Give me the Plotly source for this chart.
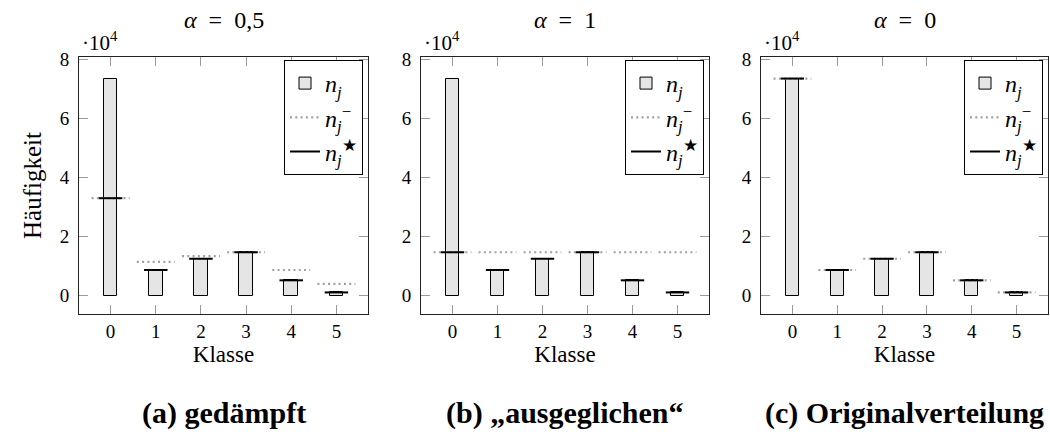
import plotly.graph_objects as go

# ---------------- data ----------------
classes = [0, 1, 2, 3, 4, 5]
tick_labels = ["0", "1", "2", "3", "4", "5"]
y_ticks = [0, 20000, 40000, 60000, 80000]
y_tick_labels = ["0", "2", "4", "6", "8"]

n_j = [73500, 8700, 12500, 14700, 5200, 1100]

# (a) alpha = 0.5
n_minus_a = [33000, 11450, 13400, 14700, 8700, 4000]
n_star_a = [33000, 8700, 12500, 14700, 5200, 1100]
# (b) alpha = 1
n_minus_b = [14700, 14700, 14700, 14700, 14700, 14700]
n_star_b = [14700, 8700, 12500, 14700, 5200, 1100]
# (c) alpha = 0
n_minus_c = [73500, 8700, 12500, 14700, 5200, 1100]
n_star_c = [73500, 8700, 12500, 14700, 5200, 1100]

titles = ["<i>α</i>\u2002=\u20020,5", "<i>α</i>\u2002=\u20021", "<i>α</i>\u2002=\u20020"]
captions = ["<b>(a) gedämpft</b>", "<b>(b) „ausgeglichen“</b>", "<b>(c) Originalverteilung</b>"]
series = [(n_minus_a, n_star_a), (n_minus_b, n_star_b), (n_minus_c, n_star_c)]

# ---------------- layout constants ----------------
W, H = 1050, 435
FONT = "'Liberation Serif', 'Times New Roman', 'DejaVu Serif', serif"
x_domains = [(79, 368), (421, 709), (761, 1048)]
y_top, y_bot = 57, 314


def segs(vals, half):
    xs, ys = [], []
    for c, v in zip(classes, vals):
        xs += [c - half, c + half, None]
        ys += [v, v, None]
    return xs, ys


fig = go.Figure()
legend_names = ["legend", "legend2", "legend3"]

for i, (nm, ns) in enumerate(series):
    ax = "" if i == 0 else str(i + 1)
    xref, yref = "x" + ax, "y" + ax
    lg = legend_names[i]
    fig.add_trace(go.Bar(
        x=classes, y=n_j, width=0.3, base=0,
        marker=dict(color="#e5e5e5", line=dict(color="black", width=1)),
        name="<i>n</i><sub><i>j</i></sub>", xaxis=xref, yaxis=yref, legend=lg,
    ))
    xs, ys = segs(nm, 0.42)
    fig.add_trace(go.Scatter(
        x=xs, y=ys, mode="lines",
        line=dict(color="#a0a0a0", width=2.2, dash="2px,3.3px"),
        name="<i>n</i><sub><i>j</i></sub><sup>−</sup>", xaxis=xref, yaxis=yref, legend=lg,
    ))
    xs, ys = segs(ns, 0.26)
    fig.add_trace(go.Scatter(
        x=xs, y=ys, mode="lines",
        line=dict(color="black", width=2),
        name="<i>n</i><sub><i>j</i></sub><sup>★</sup>", xaxis=xref, yaxis=yref, legend=lg,
    ))

layout = dict(
    width=W, height=H, template="none",
    margin=dict(l=0, r=0, t=0, b=0),
    paper_bgcolor="white", plot_bgcolor="white",
    font=dict(family=FONT, size=18, color="black"),
    bargap=0, showlegend=True,
)

annotations = []
for i, (x0, x1) in enumerate(x_domains):
    ax = "" if i == 0 else str(i + 1)
    dom = [x0 / W, x1 / W]
    common = dict(
        showline=True, linecolor="#222", linewidth=1, mirror="ticks",
        ticks="inside", ticklen=9, tickcolor="#9a9a9a", tickwidth=1,
        showgrid=False, zeroline=False, automargin=False,
        tickfont=dict(family=FONT, size=19),
    )
    layout["xaxis" + ax] = dict(
        domain=dom, range=[-0.7, 5.7], tickvals=classes, ticktext=tick_labels,
        anchor="y" + ax,
        title=dict(text="Klasse", font=dict(family=FONT, size=23), standoff=2),
        **common,
    )
    layout["yaxis" + ax] = dict(
        domain=[1 - y_bot / H, 1 - y_top / H], range=[-6200, 80800],
        tickvals=y_ticks, ticktext=y_tick_labels, anchor="x" + ax,
        ticklabelstandoff=5,
        **common,
    )
    if i == 0:
        layout["yaxis"]["title"] = dict(text="Häufigkeit", font=dict(family=FONT, size=25), standoff=10)
    lg = legend_names[i]
    layout[lg] = dict(
        x=(x1 - 5) / W, xanchor="right", y=1 - 60 / H, yanchor="top",
        xref="paper", yref="paper",
        bgcolor="white", bordercolor="black", borderwidth=1,
        font=dict(family=FONT, size=24), itemwidth=30, tracegroupgap=0,
    )
    cx = (x0 + x1) / 2 / W
    annotations.append(dict(text=titles[i], x=cx, y=1 - 20 / H, xref="paper", yref="paper",
                            showarrow=False, font=dict(family=FONT, size=24), xanchor="center", yanchor="middle"))
    annotations.append(dict(text="·10<sup>4</sup>", x=(x0 + 1) / W, y=1 - 42 / H, xref="paper", yref="paper",
                            showarrow=False, font=dict(family=FONT, size=21), xanchor="left", yanchor="middle"))
    annotations.append(dict(text=captions[i], x=cx, y=1 - 413 / H, xref="paper", yref="paper",
                            showarrow=False, font=dict(family=FONT, size=30), xanchor="center", yanchor="middle"))

layout["annotations"] = annotations
fig.update_layout(**layout)
fig.write_html("out.html")
